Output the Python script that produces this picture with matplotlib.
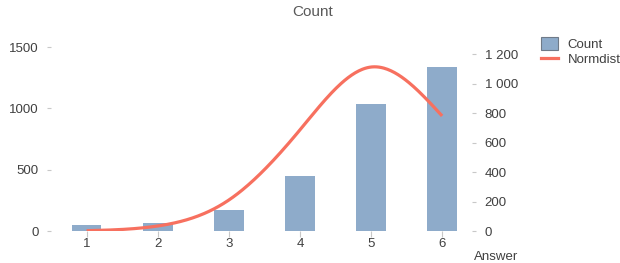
import numpy as np
import matplotlib.pyplot as plt
from matplotlib.ticker import FuncFormatter
from matplotlib.patches import Patch
from matplotlib.lines import Line2D

# values
answers = [1, 2, 3, 4, 5, 6]
counts = [49, 68, 171, 448, 1035, 1336]
normdist = [2, 34, 210, 686, 1113, 781]

bar_color = '#8eabca'
line_color = '#f7705f'
text_color = '#404040'


def natural_spline(x, y, n=300):
    """Smooth curve through the points (natural cubic spline)"""
    x = np.asarray(x, float)
    y = np.asarray(y, float)
    k = len(x)
    h = np.diff(x)
    A = np.zeros((k, k))
    b = np.zeros(k)
    A[0, 0] = A[-1, -1] = 1
    for i in range(1, k - 1):
        A[i, i - 1] = h[i - 1]
        A[i, i] = 2 * (h[i - 1] + h[i])
        A[i, i + 1] = h[i]
        b[i] = 6 * ((y[i + 1] - y[i]) / h[i] - (y[i] - y[i - 1]) / h[i - 1])
    M = np.linalg.solve(A, b)
    xs = np.linspace(x[0], x[-1], n)
    idx = np.clip(np.searchsorted(x, xs) - 1, 0, k - 2)
    x0, x1 = x[idx], x[idx + 1]
    hh = x1 - x0
    t0 = x1 - xs
    t1 = xs - x0
    ys = (M[idx] * t0**3 + M[idx + 1] * t1**3) / (6 * hh) \
        + (y[idx] / hh - M[idx] * hh / 6) * t0 \
        + (y[idx + 1] / hh - M[idx + 1] * hh / 6) * t1
    return xs, ys


plt.rcParams['font.family'] = ['Liberation Sans', 'DejaVu Sans']

fig = plt.figure(figsize=(6.2, 2.63), dpi=100)
ax = fig.add_axes([51 / 620, 1 - 231 / 263, (472 - 51) / 620, (231 - 47) / 263])
ax2 = ax.twinx()

ax.bar(answers, counts, width=0.42, color=bar_color, zorder=2)
xs, ys = natural_spline(answers, normdist)
ax2.plot(xs, ys, color=line_color, lw=2.3, solid_capstyle='butt', zorder=3)

ax.set_xlim(0.5, 6.42)
ax.set_ylim(0, 1500)
ax2.set_ylim(0, 1249)
ax.set_yticks([0, 500, 1000, 1500])
ax2.set_yticks([0, 200, 400, 600, 800, 1000, 1200])
ax2.yaxis.set_major_formatter(FuncFormatter(lambda v, p: f'{int(v):,}'.replace(',', ' ')))
ax.set_xticks(answers)

for a in (ax, ax2):
    for s in a.spines.values():
        s.set_visible(False)
    a.tick_params(colors='#c8c8c8', labelcolor=text_color, labelsize=9.5, length=3, width=0.8)
ax.tick_params(axis='y', pad=6)
ax2.tick_params(axis='y', pad=6)
ax.tick_params(axis='x', length=4, pad=1)

fig.text(313 / 620, 1 - 12 / 263, 'Count', ha='center', va='center', fontsize=11, color='#595959')
fig.text(474 / 620, 1 - 257 / 263, 'Answer', ha='left', va='center', fontsize=9.5, color=text_color)

handles = [Patch(facecolor=bar_color, edgecolor='#6f7a88', lw=0.8),
           Line2D([0], [0], color=line_color, lw=2.3)]
fig.legend(handles, ['Count', 'Normdist'], loc='upper left', bbox_to_anchor=(541 / 620, 1 - 37 / 263),
           frameon=False, fontsize=9.5, labelcolor=text_color, handlelength=1.3, handleheight=1.1,
           handletextpad=0.7, labelspacing=0.1, borderaxespad=0, borderpad=0)

fig.savefig('out.png', dpi=100)
